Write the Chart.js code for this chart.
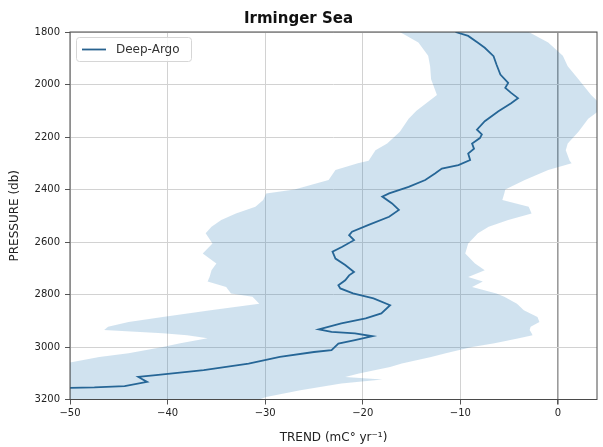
<!DOCTYPE html>
<html>
<head>
<meta charset="utf-8">
<script src="https://cdn.jsdelivr.net/npm/chart.js@4/dist/chart.umd.min.js"></script>
<style>
  html, body { margin: 0; padding: 0; background: #ffffff; }
  #wrap { width: 603px; height: 447px; position: relative; }
</style>
</head>
<body>
<div id="wrap"><canvas id="c" width="603" height="447"></canvas></div>
<script>
// Deep-Argo temperature trend profile, Irminger Sea
const chartTitle = 'Irminger Sea';
const seriesName = 'Deep-Argo';
const xTitle = 'TREND (mC\u00b0 yr\u207b\u00b9)';
const yTitle = 'PRESSURE (db)';

const xTicks = [-50, -40, -30, -20, -10, 0];
const yTicks = [1800, 2000, 2200, 2400, 2600, 2800, 3000, 3200];

// mean trend profile (db, mC/yr)
const linePressure = [1800, 1815, 1841, 1860, 1892, 1924, 1962, 1994, 2013, 2032, 2052, 2071, 2102, 2140, 2172, 2190, 2204,
  2225, 2245, 2263, 2288, 2307, 2320, 2339, 2364, 2390, 2415, 2427, 2453, 2478, 2504, 2535, 2561, 2574, 2593,
  2618, 2637, 2663, 2688, 2714, 2727, 2746, 2765, 2777, 2796, 2815, 2841, 2872, 2891, 2910, 2933, 2942, 2948,
  2959, 2974, 2987, 3012, 3019, 3038, 3063, 3088, 3107, 3114, 3133, 3149, 3154, 3157, 3162];
const lineTrend = [-10.5, -9.2, -8.2, -7.5, -6.6, -6.3, -5.9, -5.1, -5.4, -4.8, -4.1, -4.8, -6.1, -7.5, -8.3, -7.8, -8.0,
  -8.8, -8.6, -9.2, -9.0, -10.2, -11.9, -12.6, -13.6, -15.3, -17.3, -18.0, -17.0, -16.3, -17.3, -19.4, -21.1, -21.4, -20.9,
  -22.1, -23.1, -22.8, -21.8, -20.9, -21.4, -21.8, -22.5, -22.3, -21.0, -18.9, -17.2, -18.1, -19.7, -22.2, -24.5, -23.2, -20.8,
  -19.0, -20.8, -22.5, -23.2, -25.0, -28.5, -31.7, -36.3, -41.2, -43.0, -42.1, -44.4, -47.5, -52.0, -58.0];

// uncertainty envelope (db, lower / upper mC/yr)
const bandPressure = [1800, 1840, 1890, 1930, 1980, 2040, 2080, 2100, 2130, 2180, 2225, 2250, 2290, 2300, 2326, 2364,
  2400, 2415, 2440, 2466, 2491, 2516, 2542, 2567, 2606, 2644, 2682, 2708, 2733, 2750, 2771, 2796, 2809, 2835,
  2860, 2886, 2905, 2923, 2935, 2948, 2955, 2967, 2986, 3000, 3024, 3038, 3063, 3076, 3101, 3114, 3124, 3139,
  3165, 3190, 3200];
const bandLow = [-16.2, -14.3, -13.3, -13.1, -13.0, -12.4, -13.8, -14.5, -15.3, -16.2, -17.5, -18.7, -19.4, -20.5, -22.8, -23.5,
  -27.0, -29.9, -30.2, -31.0, -33.0, -34.5, -35.5, -36.1, -35.4, -36.4, -35.0, -35.5, -35.7, -35.9, -34.0, -33.5, -31.3, -30.6,
  -35.6, -40.5, -44.0, -46.1, -46.5, -40.5, -38.0, -35.9, -38.7, -40.5, -44.0, -47.0, -50.5, -52.0, -54.0, -55.0, -56.0, -57.0,
  -58.0, -59.0, -60.0];
const bandHigh = [-3.0, -1.0, 0.5, 1.0, 2.1, 3.4, 4.5, 4.2, 3.1, 2.1, 1.0, 0.8, 1.2, 1.4, -1.0, -3.4,
  -5.4, -5.5, -5.7, -3.0, -2.7, -5.1, -7.1, -8.2, -9.2, -9.5, -8.5, -7.5, -9.2, -7.7, -8.8, -6.3, -5.5, -4.2,
  -3.5, -2.1, -1.9, -2.8, -2.9, -2.7, -2.6, -4.0, -6.5, -8.8, -11.5, -13.0, -16.0, -17.2, -20.4, -21.8, -18.0, -22.2,
  -26.4, -29.9, -30.6];

const FONT = 'DejaVu Sans';

// envelope as a closed outline: down the lower edge, back up the upper edge
const bandShape = bandPressure.map((p, i) => ({ x: bandLow[i], y: p }))
  .concat(bandPressure.map((p, i) => ({ x: bandHigh[i], y: p })).reverse());
const profile = linePressure.map((p, i) => ({ x: lineTrend[i], y: p }));

const framePlugin = {
  id: 'frame',
  afterDraw(chart) {
    const { ctx, chartArea: a } = chart;
    ctx.save();
    ctx.strokeStyle = '#4a4a4a';
    ctx.lineWidth = 1;
    ctx.strokeRect(a.left, a.top, a.right - a.left, a.bottom - a.top);
    ctx.restore();
  }
};

const legendPlugin = {
  id: 'insideLegend',
  afterDraw(chart) {
    const { ctx, chartArea: a } = chart;
    const x0 = a.left + 6, y0 = a.top + 5, w = 115, h = 24;
    ctx.save();
    ctx.fillStyle = 'rgba(255,255,255,0.85)';
    ctx.strokeStyle = '#d6d6d6';
    ctx.lineWidth = 1;
    ctx.beginPath();
    ctx.roundRect(x0 + 0.5, y0 + 0.5, w, h, 3);
    ctx.fill();
    ctx.stroke();
    const cy = y0 + h / 2 + 0.5;
    ctx.strokeStyle = '#28628f';
    ctx.lineWidth = 1.8;
    ctx.beginPath();
    ctx.moveTo(x0 + 6, cy);
    ctx.lineTo(x0 + 30, cy);
    ctx.stroke();
    ctx.fillStyle = '#333333';
    ctx.font = '12px "' + FONT + '"';
    ctx.textBaseline = 'middle';
    ctx.fillText(seriesName, x0 + 40, cy);
    ctx.restore();
  }
};

new Chart(document.getElementById('c'), {
  type: 'line',
  data: {
    datasets: [
      {
        label: 'envelope',
        data: bandShape,
        fill: 'shape',
        backgroundColor: 'rgba(31,119,180,0.21)',
        borderWidth: 0,
        pointRadius: 0,
        tension: 0
      },
      {
        label: seriesName,
        data: profile,
        fill: false,
        borderColor: '#28628f',
        borderWidth: 1.8,
        pointRadius: 0,
        tension: 0
      }
    ]
  },
  options: {
    responsive: false,
    animation: false,
    events: [],
    layout: { padding: { left: 0, right: 6, top: 0, bottom: 0 } },
    plugins: {
      legend: { display: false },
      tooltip: { enabled: false },
      title: {
        display: true,
        text: chartTitle,
        color: '#111111',
        font: { family: FONT, size: 15, weight: 'bold' },
        padding: { top: 10, bottom: 4 }
      }
    },
    scales: {
      x: {
        type: 'linear',
        min: -50,
        max: 4,
        afterBuildTicks: s => { s.ticks = xTicks.map(v => ({ value: v })); },
        afterFit: s => { s.height = 47.5; },
        ticks: {
          color: '#222222',
          font: { family: FONT, size: 10 },
          padding: 3,
          maxRotation: 0,
          callback: v => String(v).replace('-', '\u2212')
        },
        grid: {
          color: ctx => (ctx.tick && ctx.tick.value === 0) ? '#9a9a9a' : '#d2d2d2',
          lineWidth: ctx => (ctx.tick && ctx.tick.value === 0) ? 1.6 : 1,
          tickLength: 5,
          tickColor: '#555555'
        },
        border: { display: false },
        title: {
          display: true,
          text: xTitle,
          color: '#222222',
          font: { family: FONT, size: 12 },
          padding: { top: 0, bottom: 2 }
        }
      },
      y: {
        type: 'linear',
        reverse: true,
        min: 1800,
        max: 3200,
        afterBuildTicks: s => { s.ticks = yTicks.map(v => ({ value: v })); },
        afterFit: s => { s.width = 70; },
        ticks: {
          color: '#222222',
          font: { family: FONT, size: 10 },
          padding: 5,
          callback: v => String(v)
        },
        grid: {
          color: '#d2d2d2',
          lineWidth: 1,
          tickLength: 5,
          tickColor: '#555555'
        },
        border: { display: false },
        title: {
          display: true,
          text: yTitle,
          color: '#222222',
          font: { family: FONT, size: 12 },
          padding: { top: 8, bottom: 0 }
        }
      }
    }
  },
  plugins: [framePlugin, legendPlugin]
});
</script>
</body>
</html>
